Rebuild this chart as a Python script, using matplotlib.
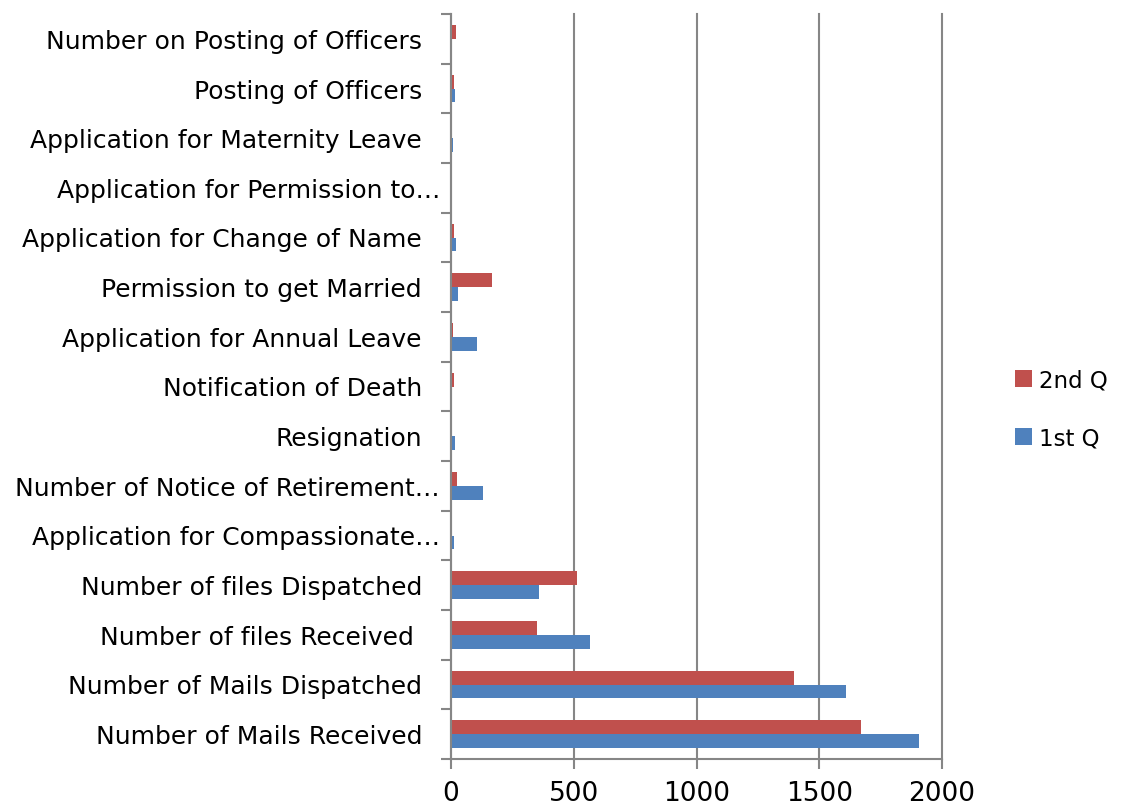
import matplotlib
matplotlib.use("Agg")
import matplotlib.pyplot as plt
import matplotlib.transforms as mtransforms
import numpy as np

categories = [
    "Number of Mails Received",
    "Number of Mails Dispatched",
    "Number of files Received ",
    "Number of files Dispatched",
    "Application for Compassionate…",
    "Number of Notice of Retirement…",
    "Resignation",
    "Notification of Death",
    "Application for Annual Leave",
    "Permission to get Married",
    "Application for Change of Name",
    "Application for Permission to…",
    "Application for Maternity Leave",
    "Posting of Officers",
    "Number on Posting of Officers",
]
q1_values = [1906, 1610, 565, 357, 12, 130, 18, 4, 105, 30, 20, 0, 10, 18, 0]
q2_values = [1670, 1397, 350, 513, 0, 26, 5, 11, 8, 169, 11, 6, 0, 14, 22]
series_names = ["1st Q", "2nd Q"]
x_ticks = [0, 500, 1000, 1500, 2000]

blue = "#4F81BD"
red = "#C0504D"
grey = "#868686"

fig = plt.figure(figsize=(11.24, 8.12), dpi=100)
ax = fig.add_axes([451 / 1124, 52 / 812, (942 - 451) / 1124, (797 - 52) / 812])

y = np.arange(len(categories))
h = 0.28
b1 = ax.barh(y - h / 2, q1_values, height=h, color=blue, label=series_names[0], zorder=3)
b2 = ax.barh(y + h / 2, q2_values, height=h, color=red, label=series_names[1], zorder=3)

ax.set_xlim(0, 2000)
ax.set_ylim(-0.5, len(categories) - 0.5)
ax.set_xticks(x_ticks)
ax.set_xticklabels([str(v) for v in x_ticks], fontsize=19)
ax.set_yticks(y)
ax.set_yticklabels([""] * len(categories))
ax.set_yticks(np.arange(len(categories) + 1) - 0.5, minor=True)
ax.tick_params(axis="y", which="major", length=0)
ax.tick_params(axis="y", which="minor", length=7, width=1.5, color=grey)
ax.tick_params(axis="x", which="major", length=7, width=1.5, color=grey, pad=8)

trans = mtransforms.blended_transform_factory(ax.transAxes, ax.transData)
for yi, name in zip(y, categories):
    off = -11 if name.endswith("…") else -29
    t = mtransforms.offset_copy(trans, fig=fig, x=off, y=-2, units="dots")
    ax.text(0, yi, name, transform=t, ha="right", va="center", fontsize=18,
            clip_on=False)

ax.grid(axis="x", color=grey, linewidth=1.5, zorder=0)
for gl in ax.get_xgridlines():
    gl.set_clip_on(False)
for s in ["top", "right"]:
    ax.spines[s].set_visible(False)
for s in ["left", "bottom"]:
    ax.spines[s].set_color(grey)
    ax.spines[s].set_linewidth(1.5)
ax.spines["left"].set_zorder(4)

handles = [b2, b1]
fig.legend(handles, [series_names[1], series_names[0]], loc="center left",
           bbox_to_anchor=(994 / 1124, 1 - 410 / 812), frameon=False,
           fontsize=16.5, handlelength=0.75, handleheight=0.75, labelspacing=1.5,
           handletextpad=0.3)

fig.savefig("out.png", dpi=100)
